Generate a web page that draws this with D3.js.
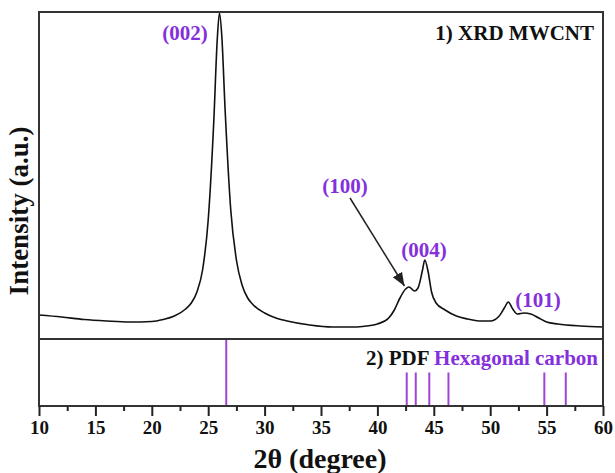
<!DOCTYPE html>
<html>
<head>
<meta charset="utf-8">
<script src="https://cdn.jsdelivr.net/npm/d3@7"></script>
<style>
  body { margin: 0; background: #fff; }
  svg text { font-family: "Liberation Serif", "Times New Roman", serif !important; font-weight: bold; }
</style>
</head>
<body>
<div class="chart"></div>
<script>
// XRD pattern of MWCNT (2theta, intensity a.u.)
const twoTheta = [10, 12, 14, 16, 18, 20, 21, 22, 23, 23.5, 24, 24.5, 25, 25.5, 25.8, 26, 26.2, 26.5, 27, 27.5, 28, 28.5, 29, 30, 31, 32, 34, 36, 38, 39, 40, 41, 41.5, 42, 42.5, 42.8, 43.3, 43.6, 44, 44.2, 44.5, 44.8, 45.2, 46, 47, 48, 49, 50, 50.8, 51.3, 51.6, 52, 52.4, 53, 53.6, 54.3, 55, 56, 58, 60];
const intensity = [24, 22, 19.5, 18, 17, 17.5, 19.5, 23, 30, 36, 47, 69, 119, 219, 299, 326, 304, 229, 129, 79, 54, 41, 34, 26, 21, 18, 14, 12, 12, 13, 15, 21, 29, 41, 50, 52, 48, 51, 69, 79, 67, 47, 36, 29, 23, 20, 18, 18, 23, 32, 37, 30, 25, 26, 25, 21, 17, 15, 13, 12];

// PDF reference lines for hexagonal carbon
const pdfPos = [26.6, 42.6, 43.4, 44.6, 46.3, 54.8, 56.7];
const pdfInt = [100, 50, 50, 50, 50, 50, 50];

// peak labels
const peakNames = ["(002)", "(100)", "(004)", "(101)"];

const xTicks = [10, 15, 20, 25, 30, 35, 40, 45, 50, 55, 60];

const w = 615, h = 473;
const margin = { top: 12, right: 12, bottom: 67, left: 39 };
const splitY = 339;
const axisY = h - margin.bottom;
const serif = "Liberation Serif, Times New Roman, serif";

const purple = "#8430dc";
const linePurple = "#a044d4";

const xScale = d3.scaleLinear().domain([10, 60]).range([margin.left, w - margin.right]);
const yScale = d3.scaleLinear().domain([0, 327]).range([splitY, margin.top]);
const yPdf = d3.scaleLinear().domain([0, 100]).range([axisY, splitY]);

const svg = d3.select(".chart").append("svg")
  .attr("width", w).attr("height", h)
  .attr("font-family", serif);

svg.append("defs").append("marker")
  .attr("id", "arrow")
  .attr("viewBox", "0 0 10 10")
  .attr("refX", 10).attr("refY", 5)
  .attr("markerWidth", 9).attr("markerHeight", 9)
  .attr("orient", "auto")
  .append("path").attr("d", "M0,1 L10,5 L0,9 Z").attr("fill", "#222");

const data = twoTheta.map((d, i) => [d, intensity[i]]);

const line = d3.line()
  .x(d => xScale(d[0]))
  .y(d => yScale(d[1]))
  .curve(d3.curveMonotoneX);

svg.append("path")
  .datum(data)
  .attr("d", line)
  .attr("fill", "none")
  .attr("stroke", "#111")
  .attr("stroke-width", 1.6);

// PDF sticks
svg.selectAll(".pdf")
  .data(pdfPos)
  .enter()
  .append("line")
  .attr("class", "pdf")
  .attr("x1", d => xScale(d))
  .attr("x2", d => xScale(d))
  .attr("y1", yPdf(0))
  .attr("y2", (d, i) => yPdf(pdfInt[i]))
  .attr("stroke", linePurple)
  .attr("stroke-width", 2);

// frames
svg.append("rect")
  .attr("x", margin.left).attr("y", margin.top)
  .attr("width", w - margin.left - margin.right)
  .attr("height", axisY - margin.top)
  .attr("fill", "none").attr("stroke", "#333").attr("stroke-width", 2);
svg.append("line")
  .attr("x1", margin.left).attr("x2", w - margin.right)
  .attr("y1", splitY).attr("y2", splitY)
  .attr("stroke", "#333").attr("stroke-width", 2);

// x axis
const xAxis = d3.axisBottom(xScale).tickValues(xTicks).tickSize(10).tickPadding(5).tickFormat(d3.format("d"));
const gx = svg.append("g")
  .attr("transform", `translate(0, ${axisY})`)
  .call(xAxis)
  .attr("font-family", serif)
  .attr("font-size", 19);
gx.select(".domain").remove();
gx.selectAll(".tick line").attr("stroke", "#222").attr("stroke-width", 2);
gx.selectAll(".tick text").attr("fill", "#111");

const minor = d3.axisBottom(xScale).tickValues(d3.range(12.5, 60, 5)).tickSize(5).tickFormat("");
const gm = svg.append("g").attr("transform", `translate(0, ${axisY})`).call(minor);
gm.select(".domain").remove();
gm.selectAll(".tick line").attr("stroke", "#222").attr("stroke-width", 2);

// axis titles
svg.append("text")
  .attr("x", 320).attr("y", 468)
  .attr("text-anchor", "middle")
  .attr("font-size", 28)
  .attr("fill", "#111")
  .text("2θ (degree)");

svg.append("text")
  .attr("transform", "translate(28, 211) rotate(-90)")
  .attr("text-anchor", "middle")
  .attr("font-size", 27)
  .attr("fill", "#111")
  .text("Intensity (a.u.)");

// panel labels
svg.append("text")
  .attr("x", 594).attr("y", 40)
  .attr("text-anchor", "end")
  .attr("font-size", 21)
  .attr("fill", "#111")
  .text("1) XRD MWCNT");

const pdfLabel = svg.append("text")
  .attr("x", 598).attr("y", 365)
  .attr("text-anchor", "end")
  .attr("font-size", 21);
pdfLabel.append("tspan").attr("fill", "#111").text("2) PDF ");
pdfLabel.append("tspan").attr("fill", purple).text("Hexagonal carbon");

// peak annotations
const labelPos = [[185, 40], [345, 193], [424, 257], [538, 307]];
svg.selectAll(".peak")
  .data(peakNames)
  .enter()
  .append("text")
  .attr("class", "peak")
  .attr("x", (d, i) => labelPos[i][0])
  .attr("y", (d, i) => labelPos[i][1])
  .attr("text-anchor", "middle")
  .attr("font-size", 21)
  .attr("fill", purple)
  .text(d => d);

svg.append("line")
  .attr("x1", 350).attr("y1", 198)
  .attr("x2", xScale(42.4)).attr("y2", yScale(53))
  .attr("stroke", "#222")
  .attr("stroke-width", 1.5)
  .attr("marker-end", "url(#arrow)");
</script>
</body>
</html>
